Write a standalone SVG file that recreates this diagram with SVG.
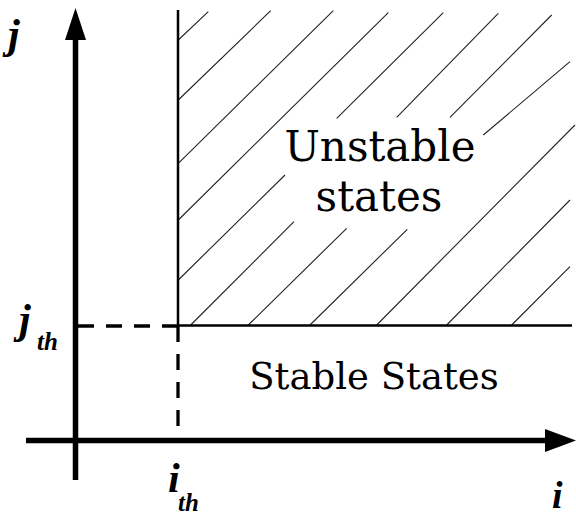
<svg xmlns="http://www.w3.org/2000/svg" width="576" height="516" viewBox="0 0 576 516">
  <style>
    .axis { stroke: #000; stroke-width: 5.5; fill: none; }
    .head { fill: #000; stroke: none; }
    .bound { stroke: #000; stroke-width: 2.5; fill: none; }
    .dash { stroke: #000; stroke-width: 3.3; fill: none; stroke-dasharray: 16 12; }
    .hatch { stroke: #222; stroke-width: 1.1; fill: none; }
    .region { font-family: "DejaVu Serif", "Liberation Serif", serif; fill: #000; text-anchor: middle; }
    .var { font-family: "Liberation Serif", "Times New Roman", serif; font-weight: bold; font-style: italic; fill: #000; }
  </style>
  <rect width="576" height="516" fill="#fff"/>

  <g id="hatch-unstable">
    <path class="hatch" d="M178.3,40 L208.3,11.7
      M178.3,100 L270.7,10.7
      M178.3,163.3 L333.3,10.7
      M178.3,220 L388.3,12.7
      M178.3,280 L285,175 M336.7,118.3 L443.3,12.7
      M190.7,325 L294,221.7 M396.7,117.3 L498.3,13.3
      M248.3,325 L346.7,228.3 M450,117.3 L551.7,15
      M310,325 L407.3,229.3 M483.3,135 L570,61.7
      M376.7,325 L575,125
      M446.7,325 L570,200
      M511.7,325 L570,266.7"/>
  </g>

  <g id="boundary">
    <line class="bound" x1="178" y1="10" x2="178" y2="326"/>
    <line class="bound" x1="178" y1="325.5" x2="572" y2="325.5"/>
  </g>

  <g id="connectors">
    <line class="dash" x1="78" y1="326" x2="178" y2="326"/>
    <line class="dash" x1="178" y1="326" x2="178" y2="430"/>
  </g>

  <g id="axis-j">
    <line class="axis" x1="75.5" y1="480" x2="75.5" y2="38"/>
    <polygon class="head" points="65,40 86,40 75.5,8"/>
  </g>
  <g id="axis-i">
    <line class="axis" x1="26" y1="440.5" x2="547" y2="440.5"/>
    <polygon class="head" points="545,429 545,452 576,440.5"/>
  </g>

  <g id="unstable">
    <text class="region" x="380" y="161" font-size="42">Unstable</text>
    <text class="region" x="379" y="211" font-size="42">states</text>
  </g>
  <g id="stable">
    <text class="region" x="374" y="389" font-size="37">Stable States</text>
  </g>

  <g id="label-j">
    <text class="var" x="8" y="48" font-size="42">j</text>
  </g>
  <g id="label-jth">
    <text class="var" x="19" y="333" font-size="42">j</text>
    <text class="var" x="37" y="350" font-size="25">th</text>
  </g>
  <g id="label-ith">
    <text class="var" x="168" y="492" font-size="42">i</text>
    <text class="var" x="178" y="511" font-size="25">th</text>
  </g>
  <g id="label-i">
    <text class="var" x="552" y="508" font-size="38">i</text>
  </g>
</svg>
